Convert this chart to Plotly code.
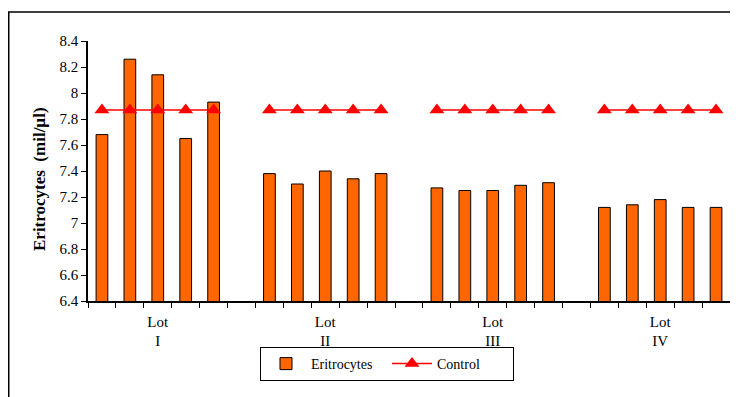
import plotly.graph_objects as go

lots = ["I", "II", "III", "IV"]
eritrocytes = [
    [7.68, 8.26, 8.14, 7.65, 7.93],
    [7.38, 7.30, 7.40, 7.34, 7.38],
    [7.27, 7.25, 7.25, 7.29, 7.31],
    [7.12, 7.14, 7.18, 7.12, 7.12],
]
control_value = 7.87
y_ticks = [6.4, 6.6, 6.8, 7, 7.2, 7.4, 7.6, 7.8, 8, 8.2, 8.4]
y_ticktext = ["6.4", "6.6", "6.8", "7", "7.2", "7.4", "7.6", "7.8", "8", "8.2", "8.4"]
y_title = "<b>Eritrocytes  (mil/µl)</b>"

# build positions: 5 bars per lot, one empty slot between lots
xs, ys, cx, cy = [], [], [], []
centers = []
pos = 0
for g, vals in enumerate(eritrocytes):
    start = pos
    for v in vals:
        xs.append(pos)
        ys.append(v)
        cx.append(pos)
        cy.append(control_value)
        pos += 1
    centers.append((start + pos - 1) / 2)
    if g < len(eritrocytes) - 1:
        cx.append(pos)
        cy.append(None)
        pos += 1
n_slots = pos
boundaries = [i - 0.5 for i in range(n_slots + 1)]

font = "Liberation Serif, Times New Roman, serif"

# page body has an 8px default margin; figure coordinates are offset by it
OFF = 8
W, H = 738 - OFF, 397 - OFF
L, T = 88 - OFF, 41 - OFF
R = W - (730 - OFF)
B = H - (301 - OFF)
pw, ph = W - L - R, H - T - B

def px_x(x):  # window px -> paper x
    return (x - OFF - L) / pw

def px_y(y):  # window px -> paper y
    return (T + ph - (y - OFF)) / ph

fig = go.Figure()
fig.add_trace(go.Bar(
    x=xs, y=ys, name="Eritrocytes", width=0.42,
    marker=dict(color="#FF6600", line=dict(color="black", width=1)),
))
fig.add_trace(go.Scatter(
    x=cx, y=cy, name="Control", mode="lines+markers", connectgaps=False,
    line=dict(color="#FF0000", width=1.5),
    marker=dict(symbol="triangle-up", size=13, color="#FF0000"),
))

fig.update_layout(
    width=W, height=H,
    margin=dict(l=L, r=R, t=T, b=B, autoexpand=False),
    paper_bgcolor="white", plot_bgcolor="white",
    font=dict(family=font, size=14, color="black"),
    showlegend=True,
    legend=dict(
        orientation="h", x=px_x(387), xanchor="center",
        y=px_y(347), yanchor="top",
        bordercolor="black", borderwidth=1, font=dict(size=14, family=font),
        itemwidth=40, entrywidth=71, tracegroupgap=0,
    ),
    xaxis=dict(
        range=[-0.5, n_slots - 0.5], showgrid=False, zeroline=False,
        showline=True, linecolor="black", linewidth=1.5, automargin=False,
        tickmode="array", tickvals=centers,
        ticktext=["Lot<br>" + l for l in lots],
        ticks="", ticklabelstandoff=6, tickfont=dict(size=15),
        minor=dict(tickmode="array", tickvals=boundaries, ticks="outside",
                   ticklen=5, tickcolor="black", tickwidth=1, showgrid=False),
    ),
    yaxis=dict(
        range=[6.4, 8.4], showgrid=False, zeroline=False, automargin=False,
        showline=True, linecolor="black", linewidth=1.5,
        tickmode="array", tickvals=y_ticks, ticktext=y_ticktext,
        ticks="outside", ticklen=5, tickcolor="black", tickfont=dict(size=15),
    ),
    annotations=[dict(text=y_title, textangle=-90, xref="paper", yref="paper",
                      x=px_x(39), y=px_y(179), xanchor="center", yanchor="middle",
                      showarrow=False, font=dict(size=17, family=font))],
    shapes=[dict(type="rect", xref="paper", yref="paper",
                 x0=(0.75 - L) / pw, x1=(W + 10 - L) / pw,
                 y0=(T + ph - (H + 20)) / ph, y1=px_y(12),
                 line=dict(color="black", width=1.5), fillcolor="rgba(0,0,0,0)", layer="below")],
)

fig.write_html("out.html")
